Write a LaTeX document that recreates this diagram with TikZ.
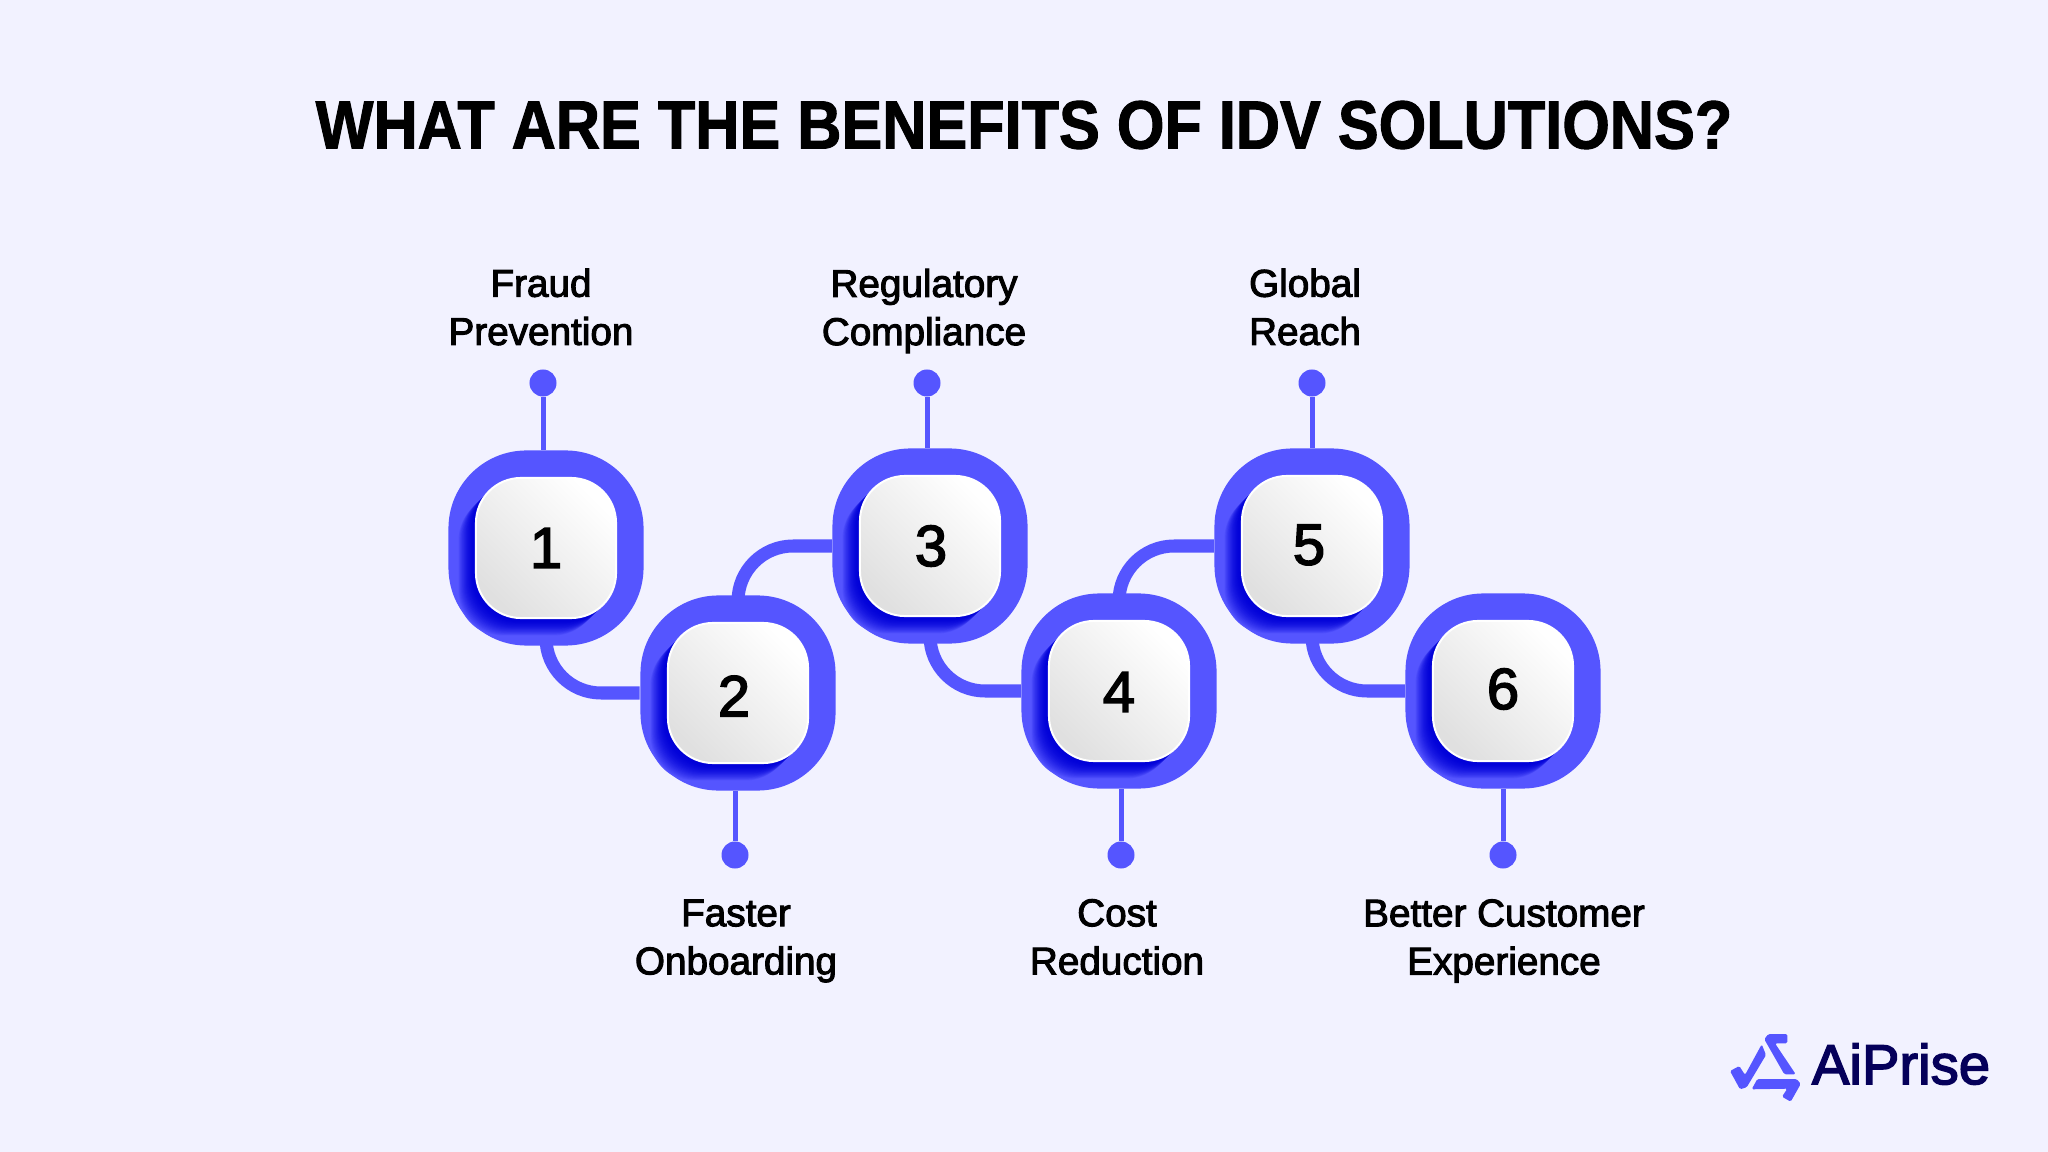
\documentclass[tikz,border=0pt]{standalone}
\usepackage{fontspec}
\usepackage{tikz}
\setmainfont{Liberation Sans}
\newfontfamily\labelfont[FakeBold=2.6]{Liberation Sans}
\newfontfamily\titlefont[FakeStretch=0.897,FakeBold=1.5]{Liberation Sans Bold}
\usetikzlibrary{positioning}
\definecolor{pagebg}{HTML}{F2F2FF}
\definecolor{ringblue}{HTML}{5555FF}
\definecolor{deepblue}{HTML}{0000D8}
\definecolor{logonavy}{HTML}{05005A}
\colorlet{HighGrey}{black!12}
\tikzset{
	ring/.style={rectangle,fill=ringblue,rounded corners=0.78cm,minimum size=1.95cm,inner sep=0},
	keybox/.style={rectangle,rounded corners=0.45cm,minimum size=1.4cm,inner sep=0},
	keyface/.style={keybox,draw=white,line width=0.02cm,shading=axis,left color=HighGrey,right color=white,shading angle=135},
	digit/.style={inner sep=0,font=\fontsize{16.5}{20}\selectfont\labelfont},
	link/.style={ringblue,line width=0.13cm,rounded corners=0.55cm},
	stub/.style={ringblue,line width=0.05cm},
	pin/.style={circle,fill=ringblue,minimum size=0.27cm,inner sep=0},
	benefit/.style={align=center,font=\fontsize{11}{13.7}\selectfont\labelfont},
	logopart/.style={fill=ringblue,rounded corners=0.015cm}
}
\begin{document}
\begin{tikzpicture}[x=0.01cm,y=-0.01cm]
	\useasboundingbox[fill=pagebg] (0,0) rectangle (2048,1152);
	\node (title) at (1024,125) {\fontsize{19.4}{24}\selectfont\titlefont WHAT ARE THE BENEFITS OF IDV SOLUTIONS?};
	% numbered keys
	\foreach \i/\x/\y/\u/\v in {1/546/548/0/0,2/738/693/-4/3,3/930/546/1/0,4/1119/691/0/1,5/1312/546/-3/-1,6/1503/691/0/-2}{
		\node[ring] (n\i) at (\x,\y) {};
		\foreach \d [evaluate=\d as \p using 100-(\d/22)*(\d/22)*100] in {22,21,...,0}
			\node[keybox,fill=deepblue!\p!ringblue] at (\x-0.83*\d,\y+0.83*\d) {};
		\node[keyface] (b\i) at (\x,\y) {};
		\node[digit] (k\i) at (\x+\u,\y+\v) {\i};
	}
	% links
	\draw[link] ([yshift=0.08cm]n1.south) |- (n2.west);
	\draw[link] ([yshift=-0.08cm]n2.north) |- (n3.west);
	\draw[link] ([yshift=0.08cm]n3.south) |- (n4.west);
	\draw[link] ([yshift=-0.08cm]n4.north) |- (n5.west);
	\draw[link] ([yshift=0.08cm]n5.south) |- (n6.west);
	% pins
	\foreach \i/\x/\y/\a in {1/543/383/north,2/735/855/south,3/927/383/north,4/1121/855/south,5/1312/383/north,6/1503/855/south}{
		\node[pin] (d\i) at (\x,\y) {};
		\draw[stub] (d\i) -- (d\i |- n\i.\a);
	}
	% labels
	\node[benefit] (t1) at (541,307) {Fraud\\Prevention};
	\node[benefit] (t2) at (736,941) {Faster\\Onboarding};
	\node[benefit] (t3) at (924,311) {Regulatory\\Compliance};
	\node[benefit] (t4) at (1117,937) {Cost\\Reduction};
	\node[benefit] (t5) at (1305,307) {Global\\Reach};
	\node[benefit] (t6) at (1504,941) {Better Customer\\Experience};
	% logo
	\fill[logopart] (1730,1071) -- (1739.3,1066) -- (1745,1075) -- (1761.7,1044.3) -- (1766,1055) -- (1746.7,1087.3) -- (1740,1089.3) -- cycle;
	\fill[logopart] (1764.3,1039.3) -- (1768.3,1034) -- (1787.3,1034) -- (1787.3,1043.3) -- (1775,1043.3) -- (1795.7,1074.3) -- (1784.3,1074.3) -- cycle;
	\fill[logopart] (1757.3,1079) -- (1796.7,1079) -- (1800.7,1084) -- (1790.7,1101.7) -- (1782,1096.7) -- (1787.3,1088.7) -- (1751.7,1089.3) -- cycle;
	\node[text=logonavy] (brand) at (1901,1064) {\fontsize{16}{20}\selectfont\labelfont AiPrise};
\end{tikzpicture}
\end{document}
